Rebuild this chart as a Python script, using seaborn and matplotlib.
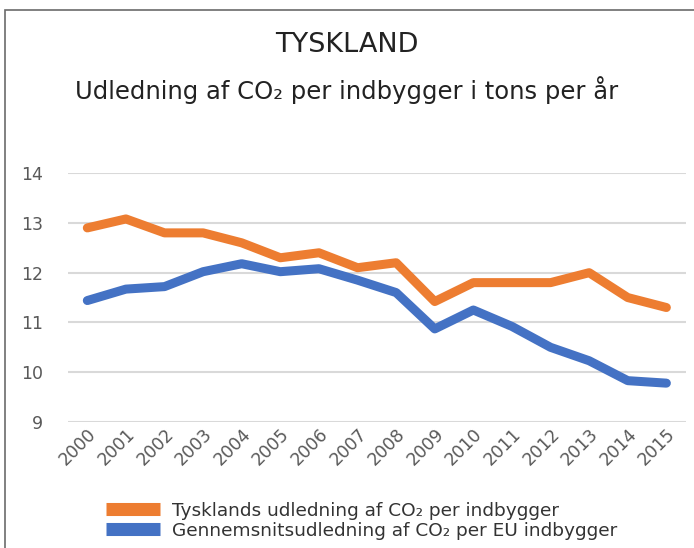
import pandas as pd
import seaborn as sns
import matplotlib.pyplot as plt
from matplotlib.patches import Rectangle

years = [str(y) for y in range(2000, 2016)]
tyskland = [12.9, 13.08, 12.8, 12.8, 12.6, 12.3, 12.4, 12.1, 12.2, 11.42, 11.8, 11.8, 11.8, 12.0, 11.5, 11.3]
eu_snit = [11.44, 11.67, 11.72, 12.02, 12.18, 12.02, 12.08, 11.85, 11.6, 10.87, 11.25, 10.92, 10.5, 10.23, 9.83, 9.78]
labels = ["Tysklands udledning af CO\u2082 per indbygger",
          "Gennemsnitsudledning af CO\u2082 per EU indbygger"]

df = pd.DataFrame({"År": years * 2,
                   "Udledning": tyskland + eu_snit,
                   "Serie": [labels[0]] * 16 + [labels[1]] * 16})

sns.set_theme(style="white")
plt.rcParams['font.family'] = ['DejaVu Sans']
grey = "#595959"

fig = plt.figure(figsize=(6.94, 5.48), dpi=100)
ax = fig.add_axes([0.098, 0.23, 0.89, 0.454])

sns.lineplot(data=df, x="År", y="Udledning", hue="Serie",
             palette=["#ED7D31", "#4472C4"], linewidth=6.5,
             sort=False, ax=ax, legend=False)

ax.set_xlim(-0.5, 15.5)
ax.set_ylim(9, 14)
ax.set_yticks(range(9, 15))
ax.grid(axis="y", color="#D9D9D9", linewidth=1.5)
ax.set_axisbelow(True)
for s in ax.spines.values():
    s.set_visible(False)
ax.set_xlabel("")
ax.set_ylabel("")
ax.tick_params(axis="y", colors=grey, labelsize=12.5, length=0, pad=18)
ax.tick_params(axis="x", colors=grey, labelsize=12.5, length=0, pad=2)
plt.setp(ax.get_xticklabels(), rotation=45, ha="right", rotation_mode="anchor")

fig.text(0.5, 0.917, "TYSKLAND", ha="center", va="center", fontsize=19.5, color="#222222")
fig.text(0.5, 0.836, "Udledning af CO\u2082 per indbygger i tons per år",
         ha="center", va="center", fontsize=17.5, color="#222222")

# legend drawn as thick bars
handles = [plt.Line2D([], [], color="#ED7D31", linewidth=9.4, solid_capstyle="butt"),
           plt.Line2D([], [], color="#4472C4", linewidth=9.4, solid_capstyle="butt")]
fig.legend(handles, labels, loc="upper left", bbox_to_anchor=(0.142, 0.098),
           frameon=False, fontsize=13.3, handlelength=2.9, handletextpad=0.7,
           labelspacing=0.1, labelcolor="#333333", borderaxespad=0)

fig.patches.append(Rectangle((5 / 694, -0.2), 1.2, 1.2 - 10 / 548,
                             transform=fig.transFigure, fill=False,
                             edgecolor="#6b6b6b", linewidth=1.2))

fig.savefig("out.png", dpi=100)
